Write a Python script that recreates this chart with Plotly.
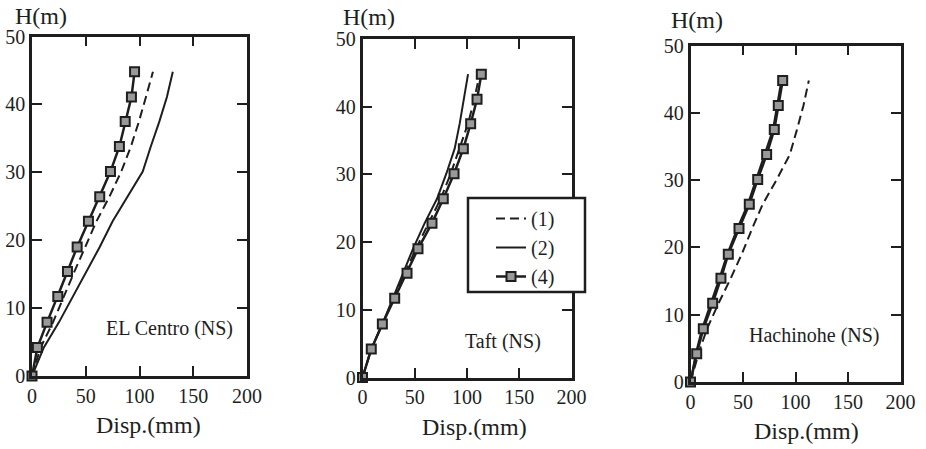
import plotly.graph_objects as go

# ---------------- data ----------------
heights = [0, 4.2, 7.9, 11.7, 15.4, 19.0, 22.8, 26.4, 30.1, 33.8, 37.5, 41.1, 44.8]

elcentro_1 = [0, 8, 19.5, 29.5, 39.5, 49.5, 60, 72, 83, 92, 99.5, 106, 112.5]
elcentro_2 = [0, 11, 25, 38, 51, 63, 75, 89, 103, 110.5, 118.5, 125.5, 131]
elcentro_4 = [0, 5, 14, 24, 33, 42, 52.5, 63, 73, 81.3, 86.7, 92.5, 95.4]

taft_1 = [0, 8.4, 19, 30, 41, 51, 63.3, 74.8, 84.4, 93, 101, 107, 112]
taft_2 = [0, 8.4, 19, 29.2, 38.8, 48.3, 59.5, 71.3, 80.2, 88.2, 93, 97.1, 101]
taft_4 = [0, 8.4, 19, 30.8, 42.6, 53.1, 66.5, 77.3, 87.6, 96.5, 103.5, 109.6, 113.7]

hachinohe_1 = [0, 7.6, 15.7, 26.7, 38.3, 48.8, 58.7, 68.7, 82.2, 94.6, 101.4, 107.6, 112.7]
hachinohe_2 = [0, 5, 11, 19.5, 27.5, 35, 44.5, 54.5, 62.5, 71, 78.5, 82.5, 86.5]
hachinohe_4 = [0, 5.9, 12.2, 21.1, 29, 36, 46.2, 56, 64, 72.5, 79.8, 83.6, 87.8]

panel_names = ["EL Centro (NS)", "Taft (NS)", "Hachinohe (NS)"]
series_names = ["(1)", "(2)", "(4)"]
x_ticks = [0, 50, 100, 150, 200]
y_ticks = [0, 10, 20, 30, 40, 50]
x_title = "Disp.(mm)"
y_title = "H(m)"

panel_data = [
    [elcentro_1, elcentro_2, elcentro_4],
    [taft_1, taft_2, taft_4],
    [hachinohe_1, hachinohe_2, hachinohe_4],
]

# ---------------- layout helpers ----------------
W, HGT = 926, 449
FONT = "Liberation Serif"
INK = "#1e1e1e"


def fx(p):
    return p / W


def fy(p):
    return 1 - p / HGT


# pixel boxes in screen px: (left, right, top, bottom)
boxes = [(32, 247, 36.5, 376), (362.5, 571.5, 39, 377.5), (690.5, 900.5, 45.5, 382)]
# label centres (screen px)
name_pos = [(169, 328), (503, 341), (814, 335)]
ytitle_pos = [(41, 16), (369, 17), (697, 20)]
xtitle_pos = [(148, 425), (475, 427), (806, 431)]
legend_frame = (468, 198, 585, 292)

styles = [
    dict(mode="lines", line=dict(color=INK, width=2, dash="9px,5px")),
    dict(mode="lines", line=dict(color=INK, width=2)),
    dict(mode="lines+markers", line=dict(color=INK, width=2.5),
         marker=dict(symbol="square", size=9, color="#999999",
                     line=dict(color=INK, width=2))),
]

fig = go.Figure()
annotations = []
layout_axes = {}


def label(text, pos, size):
    return dict(text=text, x=fx(pos[0]), y=fy(pos[1]), xref="paper", yref="paper",
                xanchor="center", yanchor="middle", showarrow=False,
                font=dict(family=FONT, size=size, color=INK))


for i, (vals, box) in enumerate(zip(panel_data, boxes)):
    sfx = "" if i == 0 else str(i + 1)
    for j, (v, st) in enumerate(zip(vals, styles)):
        fig.add_trace(go.Scatter(
            x=v, y=heights, name=series_names[j],
            xaxis="x" + sfx, yaxis="y" + sfx,
            showlegend=(i == 1), cliponaxis=False, **st))
    l, r, t, b = box
    common = dict(showline=True, linecolor=INK, linewidth=2.5, mirror="ticks",
                  ticks="inside", ticklen=10, tickwidth=2, tickcolor=INK,
                  showgrid=False, zeroline=False, automargin=False,
                  tickfont=dict(family=FONT, size=20, color=INK))
    layout_axes["xaxis" + sfx] = dict(domain=[fx(l), fx(r)], range=[0, 200],
                                      tickvals=x_ticks, anchor="y" + sfx, **common)
    layout_axes["yaxis" + sfx] = dict(domain=[fy(b), fy(t)], range=[0, 50],
                                      tickvals=y_ticks, anchor="x" + sfx, **common)
    annotations.append(label(panel_names[i], name_pos[i], 20))
    annotations.append(label(y_title, ytitle_pos[i], 24))
    annotations.append(label(x_title, xtitle_pos[i], 24))

lx0, ly0, lx1, ly1 = legend_frame
fig.update_layout(
    width=W, height=HGT,
    margin=dict(l=0, r=0, t=0, b=0),
    paper_bgcolor="white", plot_bgcolor="white",
    annotations=annotations,
    shapes=[dict(type="rect", xref="paper", yref="paper",
                 x0=fx(lx0), x1=fx(lx1), y0=fy(ly1), y1=fy(ly0),
                 fillcolor="white", line=dict(color=INK, width=2.5), layer="above")],
    legend=dict(x=fx(491), y=fy(199), xanchor="left", yanchor="top",
                bgcolor="rgba(0,0,0,0)", borderwidth=0,
                font=dict(family=FONT, size=20, color=INK)),
    **layout_axes,
)

fig.write_html("out.html", config={"displayModeBar": False},
               post_script="document.body.style.margin='0px';")
